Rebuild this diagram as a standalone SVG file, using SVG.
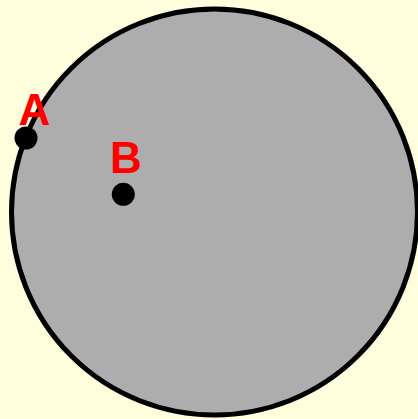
<svg xmlns="http://www.w3.org/2000/svg" width="418" height="419" viewBox="0 0 418 419">
<style>
.lbl{font-family:"Liberation Sans",Arial,sans-serif;font-weight:bold;font-size:44px;fill:#ff0000;text-anchor:middle}
.pt{fill:#000}
</style>
<rect width="418" height="419" fill="#ffffdd"/>
<g id="circle"><circle cx="214.5" cy="212" r="203" fill="#adadad" stroke="#000" stroke-width="5"/></g>
<g id="A"><circle class="pt" cx="26" cy="138" r="11.5"/><text class="lbl" x="34.5" y="124.5">A</text></g>
<g id="B"><circle class="pt" cx="123.3" cy="194.3" r="11.5"/><text class="lbl" x="126" y="172.5">B</text></g>
</svg>
